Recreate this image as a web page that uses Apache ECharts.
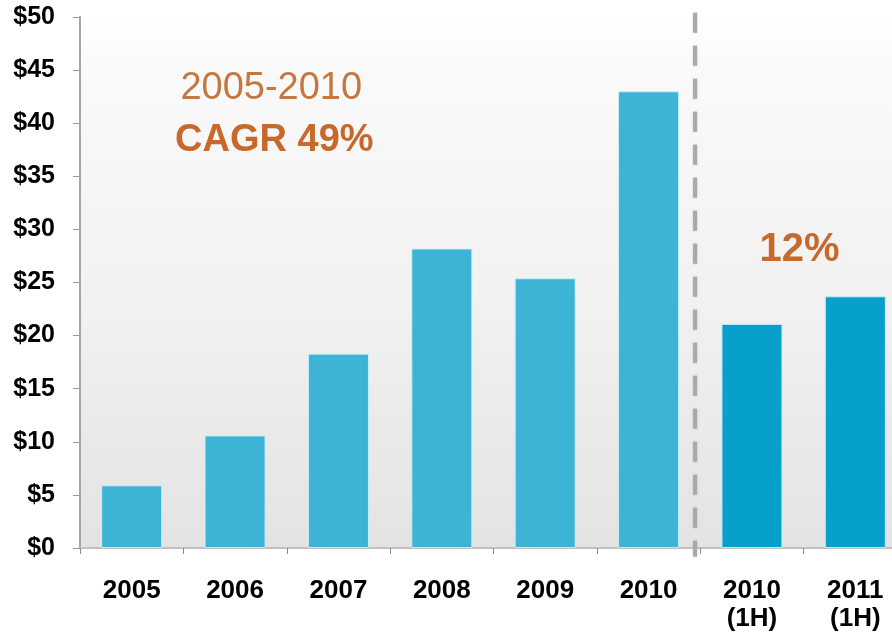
<!DOCTYPE html>
<html>
<head>
<meta charset="utf-8">
<script src="https://cdn.jsdelivr.net/npm/echarts@6/dist/echarts.min.js"></script>
<style>
  html, body { margin: 0; padding: 0; background: #ffffff; }
  #chart { width: 892px; height: 636px; }
</style>
</head>
<body>
<div id="chart"></div>
<script>
// Investment by year ($B); the last two bars are first-half figures
const categories = ['2005', '2006', '2007', '2008', '2009', '2010', '2010\n(1H)', '2011\n(1H)'];
const values = [5.9, 10.6, 18.3, 28.2, 25.4, 43.0, 21.1, 23.7];
const annualCount = 6;           // bars before the divider are full years
const yTicks = { min: 0, max: 50, interval: 5 };

// Callouts: text with its anchor in data units (category index, value)
const cagrRange = { text: '2005-2010', x: 1.35, y: 43.3 };
const cagrValue = { text: 'CAGR 49%', x: 1.38, y: 38.4 };
const halfYearGrowth = { text: '12%', x: 6.46, y: 28.1 };

const FONT = '"Liberation Sans", Arial, sans-serif';
const ANNUAL_COLOR = '#3db3d5';
const HALF_COLOR = '#07a0cb';
const ORANGE = '#c8692c';

const chart = echarts.init(document.getElementById('chart'), null, { renderer: 'canvas' });

// divider sits just left of the boundary between the two groups
const dividerX = annualCount - 0.55;

chart.setOption({
  animation: false,
  backgroundColor: '#ffffff',
  grid: {
    left: 80, top: 17, width: 827, bottom: 88,
    outerBoundsMode: 'none',
    containLabel: false,
    show: true, borderWidth: 0,
    backgroundColor: {
      type: 'linear', x: 0, y: 0, x2: 0, y2: 1,
      colorStops: [
        { offset: 0, color: '#ffffff' },
        { offset: 0.08, color: '#fafafa' },
        { offset: 0.55, color: '#f1f1f1' },
        { offset: 1, color: '#e3e3e3' }
      ]
    }
  },
  xAxis: [
    {
      type: 'category',
      data: categories,
      axisLine: { show: true, onZero: false, lineStyle: { color: '#c4c0c0', width: 2 } },
      axisTick: { show: true, length: 6, lineStyle: { color: '#8c8c8c', width: 1 } },
      axisLabel: {
        interval: 0, margin: 29,
        color: '#000', fontFamily: FONT, fontWeight: 'bold', fontSize: 26, lineHeight: 28
      },
      splitLine: { show: false }
    },
    {
      // continuous twin of the category axis, used for the divider and callouts
      type: 'value', min: -0.5, max: categories.length - 0.5, show: false
    }
  ],
  yAxis: {
    type: 'value',
    min: yTicks.min, max: yTicks.max, interval: yTicks.interval,
    axisLine: { show: true, onZero: false, lineStyle: { color: '#a6a6a6', width: 2 } },
    axisTick: { show: true, length: 7, lineStyle: { color: '#9a9a9a', width: 1 } },
    axisLabel: {
      margin: 25,
      color: '#000', fontFamily: FONT, fontWeight: 'bold', fontSize: 25,
      formatter: v => '$' + v
    },
    splitLine: { show: false }
  },
  series: [
    {
      type: 'bar',
      xAxisIndex: 0,
      barWidth: 61,
      data: values.map((v, i) => ({
        value: v,
        itemStyle: {
          color: i < annualCount ? ANNUAL_COLOR : HALF_COLOR,
          borderColor: 'rgba(205,240,250,0.9)',
          borderWidth: 1
        }
      }))
    },
    {
      // dashed divider between full years and half-year figures
      type: 'line',
      xAxisIndex: 1,
      clip: false,
      symbol: 'none',
      silent: true,
      lineStyle: { color: '#a9a9a9', width: 4, type: [20, 13], shadowColor: 'rgba(150,150,150,0.5)', shadowBlur: 2 },
      data: [[dividerX, 50.4], [dividerX, -0.8]],
      z: 3
    }
  ]
});

// Callout text placed through the axis scales
function placeText(item, size, weight, color) {
  const p = chart.convertToPixel({ xAxisIndex: 1, yAxisIndex: 0 }, [item.x, item.y]);
  return {
    type: 'text',
    x: p[0], y: p[1],
    style: {
      text: item.text,
      fill: color,
      font: weight + ' ' + size + 'px ' + FONT,
      align: 'center',
      verticalAlign: 'middle'
    },
    z: 10
  };
}

chart.setOption({
  graphic: [
    placeText(cagrRange, 38, 'normal', '#c4773f'),
    placeText(cagrValue, 38, 'bold', ORANGE),
    placeText(halfYearGrowth, 40, 'bold', ORANGE)
  ]
});
</script>
</body>
</html>
